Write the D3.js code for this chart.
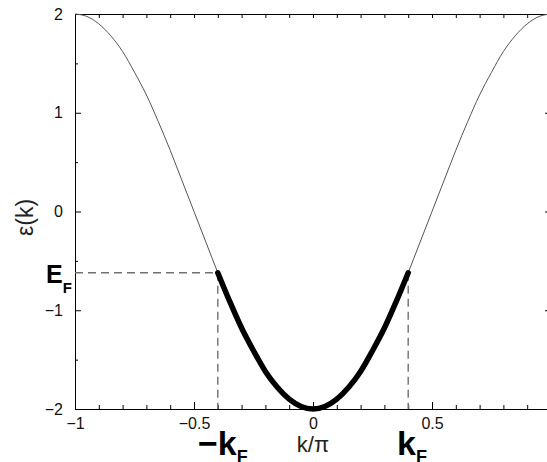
<!DOCTYPE html>
<html>
<head>
<meta charset="utf-8">
<script src="https://cdn.jsdelivr.net/npm/d3@7"></script>
<style>
  body { margin: 0; background: #fff; }
  svg { display: block; font-family: "Liberation Sans", Arial, sans-serif; }
</style>
</head>
<body>
<div id="chart"></div>
<script>
// k/pi sample points and the band energy
const kValues = [
  -1.00, -0.95, -0.90, -0.85, -0.80, -0.75, -0.70, -0.65, -0.60, -0.55,
  -0.50, -0.45, -0.40, -0.35, -0.30, -0.25, -0.20, -0.15, -0.10, -0.05,
   0.00,
   0.05,  0.10,  0.15,  0.20,  0.25,  0.30,  0.35,  0.40,  0.45,  0.50,
   0.55,  0.60,  0.65,  0.70,  0.75,  0.80,  0.85,  0.90,  0.95,  1.00
];
const energyValues = [
   2.00,  1.975, 1.90,  1.78,  1.62,  1.41,  1.18,  0.91,  0.62,  0.31,
   0.00, -0.31, -0.62, -0.91, -1.18, -1.41, -1.62, -1.78, -1.90, -1.975,
  -2.00,
  -1.975, -1.90, -1.78, -1.62, -1.41, -1.18, -0.91, -0.62, -0.31,  0.00,
   0.31,  0.62,  0.91,  1.18,  1.41,  1.62,  1.78,  1.90,  1.975, 2.00
];
const fermiK = 0.4;
const fermiE = -0.62;

const xMajorTicks = [-1, -0.5, 0, 0.5];
const xMinorTicks = d3.range(-10, 11).map(d => d / 10);
const yMajorTicks = [-2, -1, 0, 1, 2];
const yMinorTicks = [-1.5, -0.5, 0.5, 1.5];

const width = 547, height = 462;
const margin = { left: 75, top: 14, bottom: 409, right: 551 };

const svg = d3.select('#chart').append('svg')
    .attr('width', width)
    .attr('height', height);

const x = d3.scaleLinear().domain([-1, 1]).range([margin.left, margin.right]);
const y = d3.scaleLinear().domain([-2, 2]).range([margin.bottom, margin.top]);

const fmt = d => d3.format('')(d);

function styleAxis(g) {
    g.selectAll('path.domain').attr('stroke', '#000').attr('stroke-width', 1);
    g.selectAll('.tick line').attr('stroke', '#000').attr('stroke-width', 1);
    g.selectAll('.tick text')
        .attr('fill', '#111')
        .style('font-size', '16px')
        .style('font-family', '"Liberation Sans", Arial, sans-serif');
}

// bottom axis: minor then major (inward ticks)
svg.append('g')
    .attr('transform', `translate(0,${margin.bottom})`)
    .call(d3.axisBottom(x).tickValues(xMinorTicks).tickSize(-4).tickSizeOuter(0).tickFormat(''))
    .call(styleAxis);
svg.append('g')
    .attr('transform', `translate(0,${margin.bottom})`)
    .call(d3.axisBottom(x).tickValues(xMajorTicks).tickSize(-7).tickSizeOuter(0).tickPadding(9).tickFormat(fmt))
    .call(styleAxis)
    .call(g => g.select('path.domain').remove());

// top axis
svg.append('g')
    .attr('transform', `translate(0,${margin.top})`)
    .call(d3.axisTop(x).tickValues(xMinorTicks).tickSize(-4).tickSizeOuter(0).tickFormat(''))
    .call(styleAxis);

// left axis
svg.append('g')
    .attr('transform', `translate(${margin.left},0)`)
    .call(d3.axisLeft(y).tickValues(yMinorTicks).tickSize(-3).tickSizeOuter(0).tickFormat(''))
    .call(styleAxis);
svg.append('g')
    .attr('transform', `translate(${margin.left},0)`)
    .call(d3.axisLeft(y).tickValues(yMajorTicks).tickSize(-6).tickSizeOuter(0).tickPadding(12).tickFormat(fmt))
    .call(styleAxis)
    .call(g => g.select('path.domain').remove());

// right axis (mostly off the page)
svg.append('g')
    .attr('transform', `translate(${margin.right},0)`)
    .call(d3.axisRight(y).tickValues(yMajorTicks).tickSize(-6).tickSizeOuter(0).tickFormat(''))
    .call(styleAxis);

const points = kValues.map((k, i) => ({ k: k, e: energyValues[i] }));
const line = d3.line()
    .x(d => x(d.k))
    .y(d => y(d.e))
    .curve(d3.curveMonotoneX);

// dashed guides at the Fermi level
const dash = svg.append('g')
    .attr('stroke', '#707070')
    .attr('stroke-width', 1.4)
    .attr('stroke-dasharray', '8,5')
    .attr('fill', 'none');
dash.append('line')
    .attr('x1', x(-1)).attr('x2', x(-fermiK))
    .attr('y1', y(fermiE)).attr('y2', y(fermiE));
[-fermiK, fermiK].forEach(k => {
    dash.append('line')
        .attr('x1', x(k)).attr('x2', x(k))
        .attr('y1', y(fermiE)).attr('y2', y(-2));
});

// full band, thin
svg.append('path')
    .datum(points)
    .attr('fill', 'none')
    .attr('stroke', '#555')
    .attr('stroke-width', 1)
    .attr('d', line);

// occupied states, thick
svg.append('path')
    .datum(points.filter(d => Math.abs(d.k) <= fermiK + 1e-9))
    .attr('fill', 'none')
    .attr('stroke', '#000')
    .attr('stroke-width', 5.5)
    .attr('stroke-linecap', 'round')
    .attr('d', line);

// axis titles
svg.append('text')
    .attr('transform', `translate(33,${y(0) + 6}) rotate(-90)`)
    .attr('text-anchor', 'middle')
    .style('font-size', '23px')
    .attr('fill', '#222')
    .text('ε(k)');

svg.append('text')
    .attr('x', x(0))
    .attr('y', 452)
    .attr('text-anchor', 'middle')
    .style('font-size', '22px')
    .attr('fill', '#222')
    .text('k/π');

// Fermi labels
const ef = svg.append('text')
    .attr('x', 46)
    .attr('y', 283)
    .attr('font-weight', 'bold')
    .attr('fill', '#000');
ef.append('tspan').style('font-size', '25px').text('E');
ef.append('tspan').style('font-size', '15px').attr('dy', 10).text('F');

const mk = svg.append('text')
    .attr('x', 198)
    .attr('y', 455)
    .attr('font-weight', 'bold')
    .attr('fill', '#000');
mk.append('tspan').style('font-size', '34px').text('−k');
mk.append('tspan').style('font-size', '18px').attr('dy', 8).text('F');

const pk = svg.append('text')
    .attr('x', 397)
    .attr('y', 455)
    .attr('font-weight', 'bold')
    .attr('fill', '#000');
pk.append('tspan').style('font-size', '34px').text('k');
pk.append('tspan').style('font-size', '18px').attr('dy', 8).text('F');
</script>
</body>
</html>
